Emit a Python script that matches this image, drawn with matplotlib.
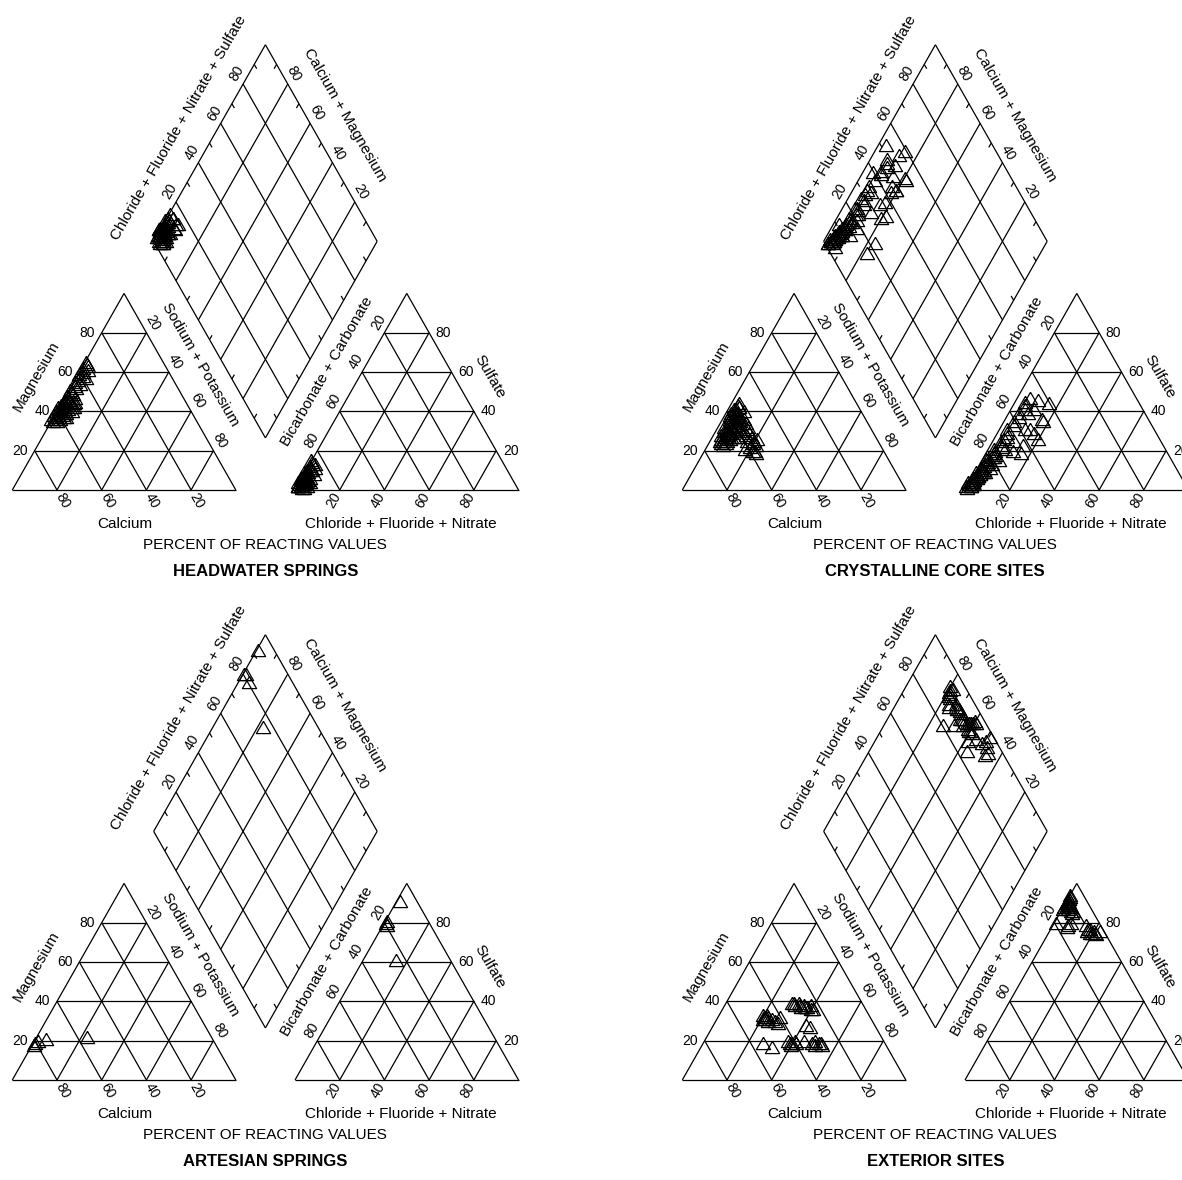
import numpy as np
import matplotlib
matplotlib.use("Agg")
import matplotlib.pyplot as plt

plt.rcParams['font.family'] = ['Liberation Sans', 'DejaVu Sans']

# ---- data: percent of reacting values (Ca = 100-Mg-NaK, HCO3 = 100-SO4-Cl) ----
# headwater springs
hw_mg = [34, 34, 35, 35, 35, 36, 36, 36, 37, 37, 37, 38, 38, 38, 38, 39, 39, 39, 40, 40,
         40, 40, 41, 41, 41, 42, 42, 42, 43, 43, 43, 44, 44, 44, 45, 45, 46, 46, 47, 48,
         49, 50, 51, 52, 53, 54, 55, 56, 57, 58, 59, 60, 61, 62, 63, 64, 36, 39, 41, 43]
hw_nak = [1, 3, 0, 2, 4, 1, 3, 5, 0, 2, 4, 1, 3, 5, 2, 0, 2, 4, 1, 3,
          5, 2, 0, 3, 6, 1, 4, 2, 3, 5, 1, 2, 4, 6, 1, 3, 2, 5, 1, 3,
          2, 1, 3, 2, 4, 1, 2, 5, 3, 1, 2, 4, 1, 3, 2, 1, 6, 7, 7, 6]
hw_so4 = [1, 3, 5, 2, 4, 6, 0, 2, 8, 3, 5, 1, 7, 4, 9, 2, 6, 3, 10, 1,
          5, 8, 4, 2, 11, 6, 3, 7, 12, 1, 4, 9, 2, 5, 13, 3, 6, 0, 8, 14,
          2, 5, 3, 7, 1, 4, 6, 2, 9, 3, 5, 1, 4, 2, 6, 3, 10, 7, 12, 5]
hw_cl = [1, 2, 0, 3, 1, 2, 4, 1, 2, 0, 3, 2, 1, 4, 2, 3, 1, 5, 2, 1,
         3, 0, 2, 4, 1, 2, 3, 1, 2, 5, 1, 3, 2, 0, 1, 4, 2, 3, 1, 0,
         2, 1, 3, 1, 2, 4, 1, 2, 1, 3, 2, 1, 2, 3, 1, 2, 4, 5, 3, 4]

# crystalline core sites
cc_mg = [40, 38, 36, 34, 32, 30, 28, 26, 24, 23, 35, 33, 31, 29, 27, 25, 37, 39, 41, 30,
         28, 26, 34, 36, 42, 32, 24, 22, 37, 29, 38, 35, 33, 31, 27, 25, 23, 36, 34, 40,
         32, 30, 28, 26, 39, 37, 35, 33, 31, 29, 27, 43, 41, 38, 36, 34, 32, 24, 26, 28,
         30, 28, 26, 24, 22, 19, 31, 25, 23, 21, 33, 35, 27, 29, 20, 18, 24, 26, 19, 30]
cc_nak = [4, 5, 4, 5, 6, 5, 6, 7, 6, 8, 6, 7, 6, 8, 7, 9, 7, 8, 5, 9,
          8, 10, 9, 8, 4, 7, 5, 7, 3, 4, 3, 4, 5, 3, 4, 5, 6, 4, 5, 3,
          6, 5, 7, 6, 4, 5, 6, 7, 8, 6, 7, 4, 5, 6, 7, 8, 9, 8, 9, 7,
          14, 16, 18, 20, 22, 23, 14, 21, 20, 20, 12, 10, 15, 13, 18, 24, 17, 12, 22, 11]
cc_so4 = [2, 3, 4, 5, 6, 8, 10, 12, 14, 16, 18, 20, 22, 24, 26, 28, 30, 32, 34, 36,
          38, 40, 42, 44, 46, 1, 3, 6, 9, 2, 0, 1, 2, 3, 4, 5, 7, 2, 3, 1,
          5, 6, 8, 9, 3, 4, 7, 10, 13, 11, 15, 2, 4, 6, 8, 12, 17, 19, 21, 25,
          20, 24, 30, 28, 34, 10, 43, 35, 25, 19, 12, 16, 38, 40, 22, 14, 30, 45, 18, 8]
cc_cl = [1, 2, 1, 3, 2, 3, 2, 4, 3, 5, 4, 3, 5, 4, 6, 5, 4, 6, 5, 6,
         5, 7, 6, 5, 6, 2, 1, 3, 2, 3, 1, 2, 1, 0, 2, 1, 3, 2, 1, 0,
         2, 3, 1, 4, 2, 1, 3, 2, 4, 3, 2, 1, 2, 3, 4, 3, 5, 4, 6, 5,
         8, 10, 12, 17, 18, 6, 16, 17, 20, 12, 6, 4, 9, 11, 15, 8, 14, 10, 16, 5]

# artesian springs
ar_mg = [18, 17, 19, 20, 21]
ar_nak = [1, 1, 2, 5, 23]
ar_so4 = [90, 79, 80, 78, 60]
ar_cl = [2, 1, 1, 2, 15]

# exterior sites
ex_mg = [31, 30, 32, 31, 30, 29, 31, 32, 30, 31, 29, 28,
         37, 38, 36, 37, 36, 38, 35, 37, 36, 35, 38, 37,
         27, 26,
         18, 16, 19, 18, 17, 19, 18, 19, 17, 18, 18, 17, 18, 19, 18]
ex_nak = [21, 22, 20, 23, 21, 24, 22, 22, 25, 28, 27, 29,
          32, 31, 35, 36, 38, 33, 40, 34, 37, 41, 30, 39,
          42, 44,
          27, 32, 38, 39, 40, 41, 40, 50, 51, 52, 49, 54, 42, 45, 53]
ex_so4 = [91, 89, 92, 88, 90, 87, 93, 89, 86, 88, 90, 87,
          89, 90, 88, 87, 91, 86, 85, 88, 90, 87, 89, 84,
          79, 77,
          79, 78, 75, 74, 76, 75, 74, 73, 75, 74, 76, 78, 88, 85, 82]
ex_cl = [1, 1, 1, 2, 1, 1, 0.5, 2, 1, 2, 1, 3,
         2, 1, 3, 2, 1, 3, 5, 2, 1, 4, 2, 6,
         8, 7,
         1, 7, 17, 19, 18, 20, 21, 22, 23, 20, 17, 15, 3, 6, 9]

titles = ['HEADWATER SPRINGS', 'CRYSTALLINE CORE SITES', 'ARTESIAN SPRINGS', 'EXTERIOR SITES']
grid_vals = [20, 40, 60, 80]

# ---- layout (pixels of the 1182x1180 output) ----
W, H = 1182, 1180
SX, SY = 223.5, 227.0     # pixels per unit (triangle side)
GAP = 0.265               # gap between triangles, in units
R3 = np.sqrt(3) / 2
origins = [(12.3, 490), (682.3, 490), (12.3, 1080), (682.3, 1080)]

fig = plt.figure(figsize=(W / 100, H / 100), dpi=100)
ax = fig.add_axes([0, 0, 1, 1])
ax.set_xlim(0, W / SX)
ax.set_ylim(0, H / SY)
ax.axis('off')

LW = 0.9
TICKFS = 10
LABFS = 11


def off(dx, dy):
    return dx / SX, dy / SY


def seg(p, q):
    ax.plot([p[0], q[0]], [p[1], q[1]], color='black', lw=LW, solid_capstyle='butt')


def txt(p, d, s, rot=0, ha='center', va='center', fs=TICKFS, **kw):
    o = off(*d)
    ax.text(p[0] + o[0], p[1] + o[1], s, rotation=rot, ha=ha, va=va, fontsize=fs,
            rotation_mode='anchor', **kw)


def triangle(x0, y0):
    seg((x0, y0), (x0 + 1, y0))
    seg((x0 + 1, y0), (x0 + 0.5, y0 + R3))
    seg((x0 + 0.5, y0 + R3), (x0, y0))
    for v in grid_vals:
        f = v / 100
        seg((x0 + f / 2, y0 + f * R3), (x0 + 1 - f / 2, y0 + f * R3))
        seg((x0 + f, y0), (x0 + f / 2, y0 + f * R3))
        seg((x0 + f, y0), (x0 + (1 + f) / 2, y0 + (1 - f) * R3))


tri_marker = [(0, 1), (-0.866, -0.5), (0.866, -0.5), (0, 1)]


def pts(x, y):
    ax.plot(x, y, linestyle='none', marker=tri_marker, markersize=11.8,
            markerfacecolor='none', markeredgecolor='black', markeredgewidth=0.9, zorder=5)


def panel(px0, py0, title, mg, nak, so4, cl):
    x0 = px0 / SX
    y0 = (H - py0) / SY
    xa = x0 + 1 + GAP
    # cation triangle
    triangle(x0, y0)
    for v in grid_vals:
        f = v / 100
        txt((x0 + f / 2, y0 + f * R3), (-7, 0), str(v), ha='right')
        txt((x0 + 1 - f, y0), (6, -10.4), str(v), rot=-60)
        txt((x0 + (1 + f) / 2, y0 + (1 - f) * R3), (6, 10.4), str(v), rot=-60)
    txt((x0, y0), (24.4, 113.3), 'Magnesium', rot=60, fs=LABFS)
    txt((x0, y0), (187.7, 125), 'Sodium + Potassium', rot=-60, fs=LABFS)
    txt((x0, y0), (112.7, -34), 'Calcium', fs=LABFS)
    # anion triangle
    triangle(xa, y0)
    for v in grid_vals:
        f = v / 100
        txt((xa + (1 - f) / 2, y0 + (1 - f) * R3), (-6, 10.4), str(v), rot=60)
        txt((xa + 1 - f / 2, y0 + f * R3), (6.6, 0), str(v), ha='left')
        txt((xa + f, y0), (-6, -10.4), str(v), rot=60)
    txt((x0, y0), (314.4, 119), 'Bicarbonate + Carbonate', rot=60, fs=LABFS)
    txt((x0, y0), (477.7, 113.3), 'Sulfate', rot=-60, fs=LABFS)
    txt((x0, y0), (388.7, -34), 'Chloride + Fluoride + Nitrate', fs=LABFS)
    # diamond
    bx, by = x0 + 1 + GAP / 2, y0 + GAP * R3

    def dia(cm, cs):
        return bx + 0.5 * (cs - cm), by + R3 * (cs + cm)

    L, T, R, B = dia(1, 0), dia(1, 1), dia(0, 1), dia(0, 0)
    for p, q in [(B, L), (L, T), (T, R), (R, B)]:
        seg(p, q)
    for v in grid_vals:
        f = v / 100
        seg(dia(1, f), dia(0, f))
        seg(dia(f, 0), dia(f, 1))
        txt(dia(1, f), (-6, 10.4), str(v), rot=60)
        txt(dia(f, 1), (6, 10.4), str(v), rot=-60)
    tl = 5.0
    for v in [10, 30, 50, 70, 90]:
        f = v / 100
        for p, d in [(dia(1, f), (0.5, -1)), (dia(f, 1), (-0.5, -1)),
                     (dia(f, 0), (0.5, 1)), (dia(0, f), (-0.5, 1))]:
            q = (p[0] + d[0] * tl / SX, p[1] + d[1] * R3 * tl / SY)
            seg(p, q)
    txt((x0, y0), (166, 361.7), 'Chloride + Fluoride + Nitrate + Sulfate', rot=60, fs=LABFS)
    txt((x0, y0), (332.7, 375), 'Calcium + Magnesium', rot=-60, fs=LABFS)
    txt((x0, y0), (253, -55), 'PERCENT OF REACTING VALUES', fs=LABFS)
    txt((x0, y0), (253, -81), title, fs=12, fontweight='bold')

    # samples
    mg = np.array(mg) / 100
    nak = np.array(nak) / 100
    so4 = np.array(so4) / 100
    cl = np.array(cl) / 100
    pts(x0 + nak + mg / 2, y0 + mg * R3)
    pts(xa + cl + so4 / 2, y0 + so4 * R3)
    dx, dy = dia(1 - nak, so4 + cl)
    pts(dx, dy)


data = [(hw_mg, hw_nak, hw_so4, hw_cl), (cc_mg, cc_nak, cc_so4, cc_cl),
        (ar_mg, ar_nak, ar_so4, ar_cl), (ex_mg, ex_nak, ex_so4, ex_cl)]
for (px0, py0), title, d in zip(origins, titles, data):
    panel(px0, py0, title, *d)

fig.savefig('out.png', dpi=100, facecolor='white')
